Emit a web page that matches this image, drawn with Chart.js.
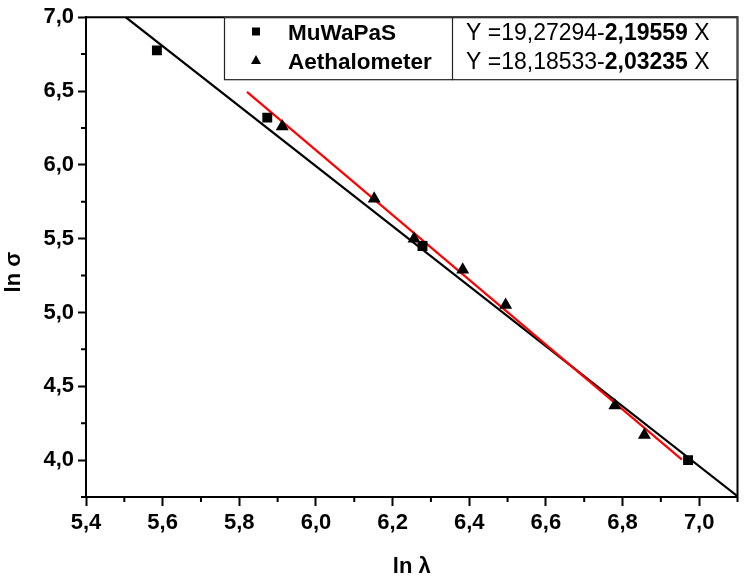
<!DOCTYPE html>
<html>
<head>
<meta charset="utf-8">
<script src="https://cdn.jsdelivr.net/npm/chart.js@4.4.1/dist/chart.umd.min.js"></script>
<style>
  html, body { margin: 0; padding: 0; background: #fff; }
</style>
</head>
<body>
<canvas id="chart" width="745" height="580"></canvas>
<script>
// measured points (ln lambda, ln sigma)
var muwapasX = [5.585, 5.873, 6.278, 6.971];
var muwapasY = [6.775, 6.32, 5.45, 4.0];
var aethX = [5.912, 6.152, 6.256, 6.383, 6.495, 6.780, 6.857];
var aethY = [6.26, 5.77, 5.50, 5.29, 5.05, 4.37, 4.17];

// linear fits, Y = a - b X (row 1 = MuWaPaS, row 2 = Aethalometer)
var seriesNames = ['MuWaPaS', 'Aethalometer'];
var fitA = ['19,27294', '18,18533'];
var fitB = ['2,19559', '2,03235'];
var redRange = [5.82, 6.955];
var blackRange = [5.504, 7.1];

// axis ticks
var xTicks = [5.4, 5.6, 5.8, 6.0, 6.2, 6.4, 6.6, 6.8, 7.0];
var xMinor = [5.5, 5.7, 5.9, 6.1, 6.3, 6.5, 6.7, 6.9, 7.1];
var yTicks = [4.0, 4.5, 5.0, 5.5, 6.0, 6.5, 7.0];
var yMinor = [3.75, 4.25, 4.75, 5.25, 5.75, 6.25, 6.75];
var yTitle = 'ln σ';

var FONT = '"Liberation Sans", Arial, sans-serif';

function num(s) { return parseFloat(s.replace(',', '.')); }
function fitLine(row, range) {
  var a = num(fitA[row]), b = num(fitB[row]);
  return range.map(function (x) { return { x: x, y: a - b * x }; });
}
function pts(xs, ys) {
  return xs.map(function (x, i) { return { x: x, y: ys[i] }; });
}
function comma(v) { return v.toFixed(1).replace('.', ','); }

// frame, minor ticks, y title and the legend/equation box
var decor = {
  id: 'decor',
  afterDraw: function (chart) {
    var ctx = chart.ctx, a = chart.chartArea;
    var xs = chart.scales.x, ys = chart.scales.y;
    ctx.save();
    ctx.strokeStyle = '#000';
    ctx.lineWidth = 2;
    ctx.beginPath();
    ctx.moveTo(a.left, a.top); ctx.lineTo(a.right, a.top); ctx.lineTo(a.right, a.bottom);
    xMinor.forEach(function (v) {
      var p = xs.getPixelForValue(v);
      ctx.moveTo(p, a.bottom); ctx.lineTo(p, a.bottom + 5);
    });
    yMinor.forEach(function (v) {
      var p = ys.getPixelForValue(v);
      ctx.moveTo(a.left, p); ctx.lineTo(a.left - 5, p);
    });
    ctx.stroke();

    // y title, sits a bit below the middle of the axis
    ctx.save();
    ctx.translate(14, (a.top + a.bottom) / 2 + 15);
    ctx.rotate(-Math.PI / 2);
    ctx.font = 'bold 22px ' + FONT;
    ctx.fillStyle = '#000';
    ctx.textAlign = 'center';
    ctx.textBaseline = 'middle';
    ctx.fillText(yTitle, 0, 0);
    ctx.restore();

    // legend box
    var bx = 224, by = a.top, bw = a.right - bx, bh = 63, div = 452;
    ctx.fillStyle = '#fff';
    ctx.fillRect(bx, by, bw, bh);
    ctx.lineWidth = 1.2;
    ctx.strokeStyle = '#222';
    ctx.strokeRect(bx + 0.5, by + 0.5, bw - 1, bh - 1);
    ctx.beginPath();
    ctx.moveTo(div + 0.5, by); ctx.lineTo(div + 0.5, by + bh);
    ctx.stroke();

    var base = [40, 68.5];
    ctx.fillStyle = '#000';
    // markers
    ctx.fillRect(256 - 4, 31.5 - 4, 8, 8);
    ctx.beginPath();
    ctx.moveTo(256, 55); ctx.lineTo(261, 64); ctx.lineTo(251, 64); ctx.closePath();
    ctx.fill();

    ctx.textBaseline = 'alphabetic';
    ctx.textAlign = 'left';
    for (var i = 0; i < 2; i++) {
      ctx.font = 'bold 22.5px ' + FONT;
      ctx.fillText(seriesNames[i], 288, base[i]);
      var x = 466;
      ctx.font = '23px ' + FONT;
      var t1 = 'Y =' + fitA[i] + '-';
      ctx.fillText(t1, x, base[i]);
      x += ctx.measureText(t1).width;
      ctx.font = 'bold 23px ' + FONT;
      ctx.fillText(fitB[i], x, base[i]);
      x += ctx.measureText(fitB[i]).width;
      ctx.font = '23px ' + FONT;
      ctx.fillText(' X', x, base[i]);
    }
    ctx.restore();
  }
};

new Chart(document.getElementById('chart'), {
  type: 'scatter',
  data: {
    datasets: [
      {
        label: seriesNames[0],
        data: pts(muwapasX, muwapasY),
        pointStyle: 'rect',
        pointRadius: 7,
        backgroundColor: '#000',
        borderColor: '#000',
        borderWidth: 0
      },
      {
        label: seriesNames[1],
        data: pts(aethX, aethY),
        pointStyle: 'triangle',
        pointRadius: 7.5,
        backgroundColor: '#000',
        borderColor: '#000',
        borderWidth: 0
      },
      {
        label: 'fit 1',
        data: fitLine(0, redRange),
        showLine: true,
        pointRadius: 0,
        borderColor: '#ff0000',
        borderWidth: 2.2
      },
      {
        label: 'fit 2',
        data: fitLine(1, blackRange),
        showLine: true,
        pointRadius: 0,
        borderColor: '#000',
        borderWidth: 2.2
      }
    ]
  },
  options: {
    responsive: false,
    animation: false,
    layout: { padding: { top: 13, right: 2, left: 0, bottom: 0 } },
    plugins: { legend: { display: false }, tooltip: { enabled: false } },
    scales: {
      x: {
        type: 'linear',
        min: 5.4,
        max: 7.1,
        afterBuildTicks: function (s) { s.ticks = xTicks.map(function (v) { return { value: v }; }); },
        afterFit: function (s) { s.height = 83; },
        ticks: {
          callback: function (v) { return comma(v); },
          color: '#000',
          font: { family: FONT, size: 22, weight: 'bold' },
          padding: 4,
          maxRotation: 0
        },
        grid: { drawOnChartArea: false, tickLength: 9, tickWidth: 2, tickColor: '#000' },
        border: { color: '#000', width: 2 },
        title: {
          display: true,
          text: 'ln λ',
          color: '#000',
          font: { family: FONT, size: 22, weight: 'bold' },
          padding: { top: 0, bottom: 0 }
        }
      },
      y: {
        type: 'linear',
        min: 3.75,
        max: 7.0,
        afterBuildTicks: function (s) { s.ticks = yTicks.map(function (v) { return { value: v }; }); },
        afterFit: function (s) { s.width = 86; },
        ticks: {
          callback: function (v) { return comma(v); },
          color: '#000',
          font: { family: FONT, size: 22, weight: 'bold' },
          padding: 4
        },
        grid: { drawOnChartArea: false, tickLength: 8, tickWidth: 2, tickColor: '#000' },
        border: { color: '#000', width: 2 }
      }
    }
  },
  plugins: [decor]
});
</script>
</body>
</html>
